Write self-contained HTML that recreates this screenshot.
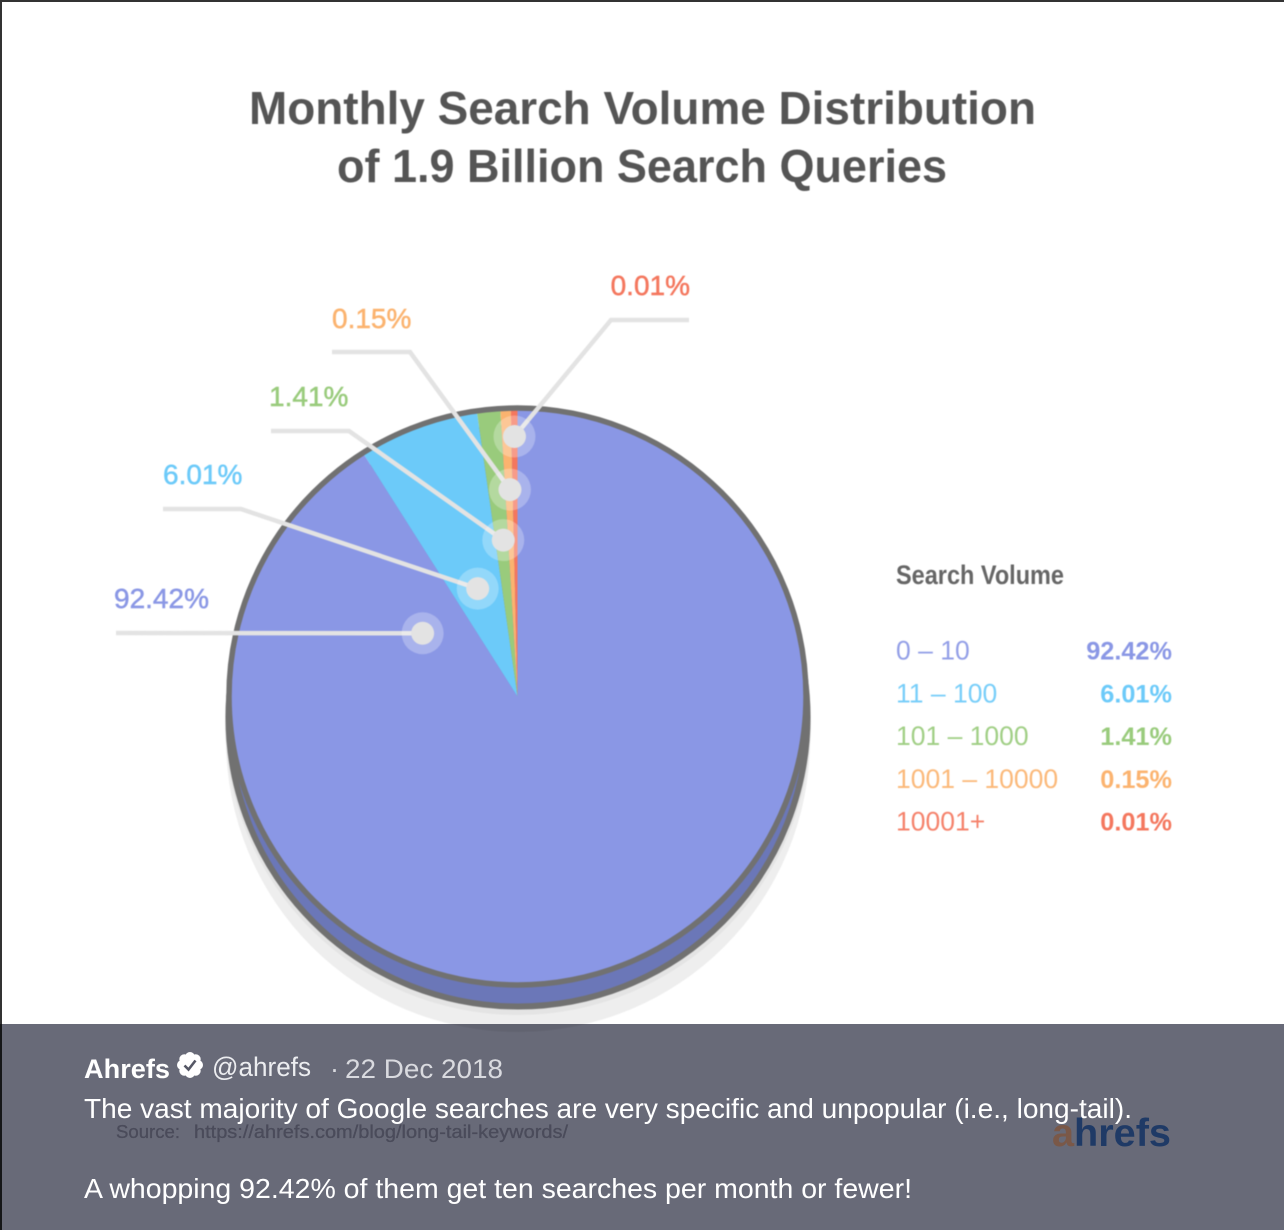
<!DOCTYPE html>
<html lang="en">
<head>
<meta charset="utf-8">
<title>Monthly Search Volume Distribution</title>
<style>
html,body{margin:0;padding:0;background:#fff;width:1284px;height:1230px;overflow:hidden}
svg{display:block;font-family:"Liberation Sans",sans-serif}
</style>
</head>
<body>
<svg id="stage" xmlns="http://www.w3.org/2000/svg" width="1284" height="1230" viewBox="0 0 1284 1230">
  <rect x="0" y="0" width="1284" height="1230" fill="#ffffff"/>
  <rect x="0" y="0" width="1284" height="2" fill="#333333"/>
  <rect x="0" y="0" width="2" height="1230" fill="#333333"/>

  <g id="chart" style="filter:blur(0.45px)">
    <text x="249" y="124" font-size="46" font-weight="700" fill="#555555" textLength="787" lengthAdjust="spacingAndGlyphs">Monthly Search Volume Distribution</text>
    <text x="337" y="182" font-size="46" font-weight="700" fill="#555555" textLength="610" lengthAdjust="spacingAndGlyphs">of 1.9 Billion Search Queries</text>

    <circle cx="518" cy="740" r="292" fill="#eeeeee"/>
    <circle cx="518" cy="722" r="293" fill="#e4e4e4"/>
    <circle cx="518" cy="717" r="289.5" fill="#6b77b8" stroke="#717171" stroke-width="6"/>
    <g id="slices"></g>
    <circle cx="517.5" cy="696.5" r="288.5" fill="none" stroke="#717171" stroke-width="5.5"/>
    <g id="callouts"></g>

    <text x="896" y="584" font-size="27" font-weight="700" fill="#666666" textLength="168" lengthAdjust="spacingAndGlyphs">Search Volume</text>
    <g id="legend"></g>
  </g>

  <rect x="0" y="1024" width="1284" height="206" fill="#686a78" style="mix-blend-mode:multiply"/>

  <text x="116" y="1138" font-size="18" fill="#4a4b5a" stroke="#4a4b5a" stroke-width="0.3" textLength="64" lengthAdjust="spacingAndGlyphs">Source:</text>
  <text x="194" y="1138" font-size="18" fill="#4a4b5a" stroke="#4a4b5a" stroke-width="0.3" textLength="374" lengthAdjust="spacingAndGlyphs">https://ahrefs.com/blog/long-tail-keywords/</text>
  <text x="1052" y="1146" font-size="39" font-weight="700" textLength="119" lengthAdjust="spacingAndGlyphs"><tspan fill="#7a5848">a</tspan><tspan fill="#1f3a66">hrefs</tspan></text>

  <text x="84" y="1078" font-size="27" font-weight="700" fill="#ffffff" textLength="86" lengthAdjust="spacingAndGlyphs">Ahrefs</text>
  <g transform="translate(190 1065)">
    <g fill="#ffffff">
      <circle r="10.5"/>
      <circle cx="0" cy="-8" r="5"/><circle cx="5.7" cy="-5.7" r="5"/><circle cx="8" cy="0" r="5"/><circle cx="5.7" cy="5.7" r="5"/>
      <circle cx="0" cy="8" r="5"/><circle cx="-5.7" cy="5.7" r="5"/><circle cx="-8" cy="0" r="5"/><circle cx="-5.7" cy="-5.7" r="5"/>
    </g>
    <path d="M-5.5 0.5 L-1.5 4.5 L5.5 -4.5" fill="none" stroke="#555765" stroke-width="2.6"/>
  </g>
  <text x="212" y="1076" font-size="27" fill="#ecedf0" textLength="99" lengthAdjust="spacingAndGlyphs">@ahrefs</text>
  <text x="330" y="1078" font-size="27" fill="#d9dadf">·</text>
  <text x="345" y="1078" font-size="27" fill="#d9dadf" textLength="158" lengthAdjust="spacingAndGlyphs">22 Dec 2018</text>
  <text x="84" y="1118" font-size="28" fill="#ffffff" textLength="1048" lengthAdjust="spacingAndGlyphs">The vast majority of Google searches are very specific and unpopular (i.e., long-tail).</text>
  <text x="84" y="1198" font-size="28" fill="#ffffff" textLength="828" lengthAdjust="spacingAndGlyphs">A whopping 92.42% of them get ten searches per month or fewer!</text>
</svg>

<script>
// Chart data
const categories = ["0 – 10", "11 – 100", "101 – 1000", "1001 – 10000", "10001+"];
const printedPercents = ["92.42%", "6.01%", "1.41%", "0.15%", "0.01%"];
// Slice shares as actually drawn in the picture (small slices are exaggerated there)
const drawnShares = [90.98, 6.75, 1.3, 0.58, 0.37];

const NS = "http://www.w3.org/2000/svg";
const seriesColors = ["#8a97e5", "#6ccaf9", "#99cb7c", "#fbb36f", "#f4775e"];
const pieCx = 517.5, pieCy = 696.5, pieR = 288.5;
const totalShare = drawnShares.reduce(function (a, b) { return a + b; }, 0);

function angleOf(cumulative) { return cumulative / totalShare * Math.PI * 2; }
function polarX(angle, r) { return pieCx + Math.sin(angle) * r; }
function polarY(angle, r) { return pieCy - Math.cos(angle) * r; }
function make(tag, parent, props) {
  const el = document.createElementNS(NS, tag);
  Object.keys(props).forEach(function (k) { el.setAttribute(k, props[k]); });
  parent.appendChild(el);
  return el;
}

// Slices
const sliceLayer = document.getElementById("slices");
const startAngles = [];
const endAngles = [];
let running = 0;
drawnShares.forEach(function (share, i) {
  const a0 = angleOf(running);
  running += share;
  const a1 = angleOf(running);
  startAngles.push(a0);
  endAngles.push(a1);
  const large = a1 - a0 > Math.PI ? 1 : 0;
  const d = "M" + pieCx + " " + pieCy + " L" + polarX(a0, pieR) + " " + polarY(a0, pieR) +
            " A" + pieR + " " + pieR + " 0 " + large + " 1 " + polarX(a1, pieR) + " " + polarY(a1, pieR) + " Z";
  const slice = make("path", sliceLayer, { d: d, fill: seriesColors[i] });
  
  
});

// Callouts: the dot follows its slice, the elbow and label stay where the design puts them
const calloutLayer = document.getElementById("callouts");
function drawCallout(i, sweepFraction, dotRadius, lineStartX, elbowX, elbowY, labelX, labelY, labelAnchor) {
  const a = startAngles[i] + (endAngles[i] - startAngles[i]) * sweepFraction;
  const dotX = polarX(a, dotRadius);
  const dotY = polarY(a, dotRadius);

  const line = make("polyline", calloutLayer, {
    points: lineStartX + "," + elbowY + " " + elbowX + "," + elbowY + " " + dotX + "," + dotY,
    fill: "none", stroke: "#e3e3e3", "stroke-width": 4.5
  });
  
  

  const halo = make("circle", calloutLayer, { cx: dotX, cy: dotY, r: 21, fill: "#ffffff", "fill-opacity": 0.27 });
  
  

  const dot = make("circle", calloutLayer, { cx: dotX, cy: dotY, r: 11.5, fill: "#e3e3e3" });
  
  

  const label = make("text", calloutLayer, {
    x: labelX, y: labelY, "font-size": 28, fill: seriesColors[i], "text-anchor": labelAnchor,
    stroke: seriesColors[i], "stroke-width": 0.5
  });
  label.textContent = printedPercents[i];
  
  
}
drawCallout(0, 0.927, 114, 116, 116, 633, 114, 608, "start");
drawCallout(1, 0.5, 115, 163, 241, 509, 163, 484, "start");
drawCallout(2, 0.62, 157, 271, 349, 431, 269, 406, "start");
drawCallout(3, 0.64, 207, 332, 410, 352, 332, 328, "start");
drawCallout(4, 0.5, 260, 689, 611, 320, 690, 295, "end");

// Legend
const legendLayer = document.getElementById("legend");
categories.forEach(function (name, i) {
  const baseline = 659.5 + i * 42.75;
  const range = make("text", legendLayer, {
    x: 896, y: baseline, "font-size": 26.5, fill: seriesColors[i], "fill-opacity": 0.92
  });
  range.textContent = name;
  
  

  const value = make("text", legendLayer, {
    x: 1172, y: baseline, "font-size": 25.3, "font-weight": 700, fill: seriesColors[i], "text-anchor": "end"
  });
  value.textContent = printedPercents[i];
  
  
});
</script>
</body>
</html>
